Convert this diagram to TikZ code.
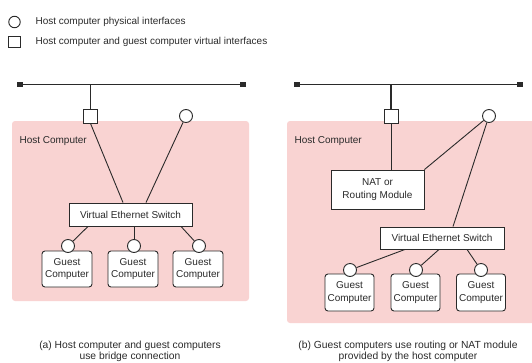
\documentclass[tikz,border=0pt]{standalone}
\usepackage{fontspec}
\setmainfont{Liberation Sans}
\definecolor{hostpink}{HTML}{F9D3D2}
\definecolor{ink}{HTML}{2A2A2A}
\begin{document}
\begin{tikzpicture}[x=1pt,y=-1pt,
  every node/.style={font=\fontsize{10}{12}\selectfont, text=ink},
  line/.style={draw=ink, line width=1.3pt},
  conn/.style={draw=ink, line width=0.9pt},
  hostbox/.style={fill=hostpink, draw=none, rounded corners=3pt},
  phys/.style={circle, draw=ink, fill=white, line width=0.9pt, minimum size=13pt, inner sep=0pt},
  virt/.style={rectangle, draw=ink, fill=white, line width=0.9pt, minimum size=14pt, inner sep=0pt},
  endpt/.style={rectangle, fill=ink, minimum size=5.5pt, inner sep=0pt},
  switchbox/.style={rectangle, draw=ink, fill=white, line width=0.9pt, minimum width=123pt, minimum height=23pt, inner sep=0pt},
  natbox/.style={rectangle, draw=ink, fill=white, line width=0.9pt, minimum width=93pt, minimum height=39pt, inner sep=0pt, align=center, font=\fontsize{10}{12.5}\selectfont},
  guest/.style={rectangle, rounded corners=3pt, draw=ink, fill=white, line width=0.9pt, minimum width=50pt, minimum height=36pt, inner sep=0pt, align=center, font=\fontsize{10}{12.5}\selectfont},
  caption/.style={align=center, font=\fontsize{10.3}{11.5}\selectfont}
]
\useasboundingbox (0,0) rectangle (532,362);

% legend
\node[phys, minimum size=11.5pt] (lc) at (14.5,22) {};
\node[anchor=west] (lct) at (32,22) {Host computer physical interfaces};
\node[virt, minimum size=11.5pt] (ls) at (14.5,42) {};
\node[anchor=west] (lst) at (32,42) {Host computer and guest computer virtual interfaces};

% ===== panel (a) =====
\fill[hostbox] (12,121) rectangle (249,301);
\node[anchor=west] (ha) at (16,141) {Host Computer};
\node[endpt] (ae1) at (20,84.5) {};
\node[endpt] (ae2) at (243,84.5) {};
\draw[line] (ae1.center) -- (ae2.center);
\coordinate (abr) at (90.5,84.5);
\node[virt] (asq) at (90.5,116) {};
\node[phys] (aci) at (186,116) {};
\draw[line] (abr) -- (asq.north);
\node[switchbox] (asw) at (130.5,214.5) {Virtual Ethernet Switch};
\draw[conn] (asq.south) -- (asw.north -| 123,0);
\draw[conn] (aci) -- (asw.north -| 146,0);
\node[guest] (ag1) at (67,269) {Guest\\Computer};
\node[guest] (ag2) at (133,269) {Guest\\Computer};
\node[guest] (ag3) at (198,269) {Guest\\Computer};
\node[phys] (ac1) at (68,246) {};
\node[phys] (ac2) at (134,246) {};
\node[phys] (ac3) at (199,246) {};
\draw[conn] (asw.south -| 88,0) -- (ac1);
\draw[conn] (asw.south -| 134,0) -- (ac2);
\draw[conn] (asw.south -| 181,0) -- (ac3);
\node[caption] (capa) at (130,351.5) {(a) Host computer and guest computers\\use bridge connection};

% ===== panel (b) =====
\fill[hostbox] (287,121) rectangle (535,323);
\node[anchor=west] (hb) at (291,141) {Host Computer};
\node[endpt] (be1) at (297,84.5) {};
\node[endpt] (be2) at (520,84.5) {};
\draw[line] (be1.center) -- (be2.center);
\coordinate (bbr) at (391,84.5);
\node[virt] (bsq) at (391,116) {};
\node[phys] (bci) at (489,116) {};
\draw[line] (bbr) -- (bsq.north);
\node[natbox] (nat) at (377.5,189.5) {NAT or\\Routing Module};
\draw[conn] (bsq.south) -- (nat.north -| 391,0);
\draw[conn] (bci) -- (nat.north east);
\node[switchbox, minimum width=124pt, minimum height=22pt] (bsw) at (442,238) {Virtual Ethernet Switch};
\draw[conn] (bci) -- (bsw.north -| 453,0);
\node[guest, minimum width=49pt, minimum height=37pt] (bg1) at (349.5,292.5) {Guest\\Computer};
\node[guest, minimum width=49pt, minimum height=37pt] (bg2) at (415.5,292.5) {Guest\\Computer};
\node[guest, minimum width=49pt, minimum height=37pt] (bg3) at (481,292.5) {Guest\\Computer};
\node[phys] (bc1) at (350,270) {};
\node[phys] (bc2) at (416,270) {};
\node[phys] (bc3) at (481,270) {};
\draw[conn] (bsw.south -| 405,0) -- (bc1);
\draw[conn] (bsw.south -| 439,0) -- (bc2);
\draw[conn] (bsw.south -| 467,0) -- (bc3);
\node[caption] (capb) at (408,351.5) {(b) Guest computers use routing or NAT module\\provided by the host computer};
\end{tikzpicture}
\end{document}
